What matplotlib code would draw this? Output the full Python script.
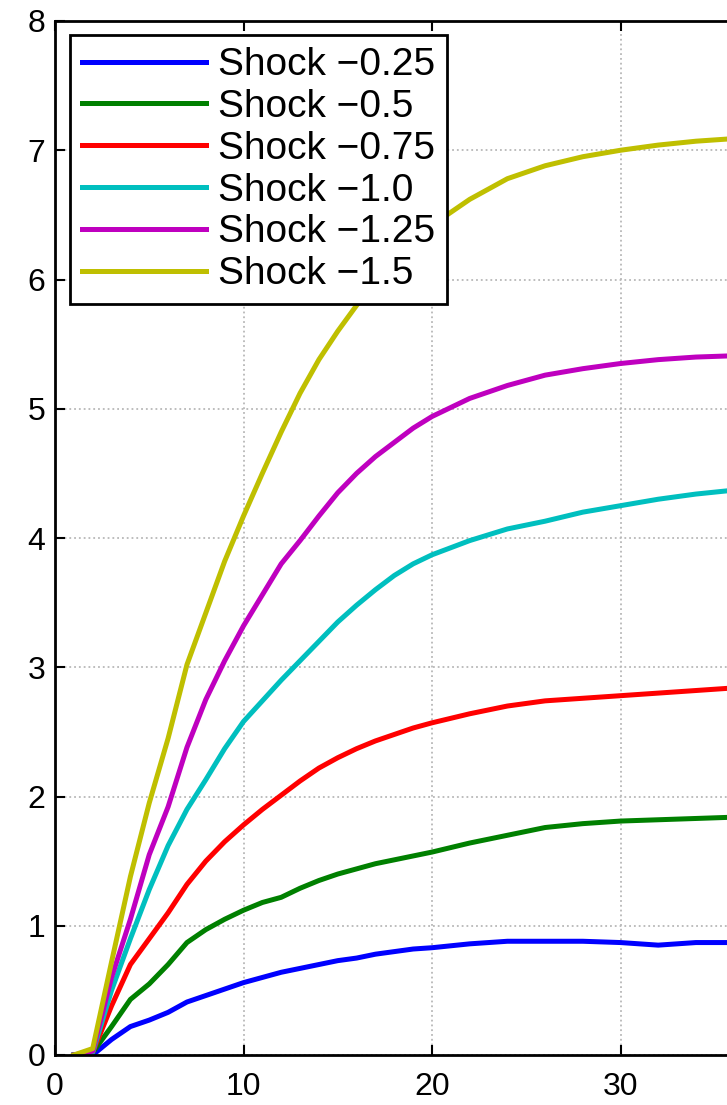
import matplotlib
matplotlib.use("Agg")
import matplotlib.pyplot as plt

plt.rcParams['font.family'] = ['Liberation Sans', 'DejaVu Sans']

# time steps
t = [1, 2, 3, 4, 5, 6, 7, 8, 9, 10, 11, 12, 13, 14, 15, 16, 17, 18, 19, 20,
     22, 24, 26, 28, 30, 32, 34, 36]

shock_025 = [0, 0, 0.12, 0.22, 0.27, 0.33, 0.41, 0.46, 0.51, 0.56, 0.60, 0.64, 0.67, 0.70,
             0.73, 0.75, 0.78, 0.80, 0.82, 0.83, 0.86, 0.88, 0.88, 0.88, 0.87, 0.85, 0.87, 0.87]
shock_050 = [0, 0.02, 0.22, 0.43, 0.55, 0.70, 0.87, 0.97, 1.05, 1.12, 1.18, 1.22, 1.29, 1.35,
             1.40, 1.44, 1.48, 1.51, 1.54, 1.57, 1.64, 1.70, 1.76, 1.79, 1.81, 1.82, 1.83, 1.84]
shock_075 = [0, 0.02, 0.38, 0.70, 0.90, 1.10, 1.32, 1.50, 1.65, 1.78, 1.90, 2.01, 2.12, 2.22,
             2.30, 2.37, 2.43, 2.48, 2.53, 2.57, 2.64, 2.70, 2.74, 2.76, 2.78, 2.80, 2.82, 2.84]
shock_100 = [0, 0.02, 0.50, 0.90, 1.28, 1.62, 1.90, 2.13, 2.37, 2.58, 2.74, 2.90, 3.05, 3.20,
             3.35, 3.48, 3.60, 3.71, 3.80, 3.87, 3.98, 4.07, 4.13, 4.20, 4.25, 4.30, 4.34, 4.37]
shock_125 = [0, 0.03, 0.60, 1.05, 1.55, 1.92, 2.38, 2.75, 3.05, 3.32, 3.56, 3.80, 3.98, 4.17,
             4.35, 4.50, 4.63, 4.74, 4.85, 4.94, 5.08, 5.18, 5.26, 5.31, 5.35, 5.38, 5.40, 5.41]
shock_150 = [0, 0.05, 0.72, 1.38, 1.95, 2.45, 3.02, 3.42, 3.82, 4.17, 4.50, 4.82, 5.12, 5.38,
             5.60, 5.80, 5.99, 6.15, 6.30, 6.42, 6.62, 6.78, 6.88, 6.95, 7.00, 7.04, 7.07, 7.09]

labels = ['Shock \u22120.25', 'Shock \u22120.5', 'Shock \u22120.75',
          'Shock \u22121.0', 'Shock \u22121.25', 'Shock \u22121.5']
series = [shock_025, shock_050, shock_075, shock_100, shock_125, shock_150]
colors = ['#0000ff', '#008000', '#ff0000', '#00bfbf', '#bf00bf', '#bfbf00']

fig = plt.figure(figsize=(7.27, 11.05), dpi=100)
ax = fig.add_axes([55 / 727, 50 / 1105, 754 / 727, 1034 / 1105])

for y, c, lab in zip(series, colors, labels):
    ax.plot(t, y, color=c, lw=3.6, label=lab, solid_joinstyle='round')

ax.set_xlim(0, 40)
ax.set_ylim(0, 8)
ax.set_xticks([0, 10, 20, 30])
ax.set_yticks(range(0, 9))
ax.grid(True, linestyle=':', color='#b8b8b8', lw=1.3)
ax.tick_params(axis='both', direction='in', length=7, width=1.5, labelsize=23,
               top=True, right=True)
ax.tick_params(axis='x', pad=12)
ax.tick_params(axis='y', pad=7)
for s in ax.spines.values():
    s.set_linewidth(2)

leg = ax.legend(loc='upper left', bbox_to_anchor=(0.02, 0.986), borderaxespad=0,
                fontsize=28, handlelength=3.2, handletextpad=0.3, labelspacing=0.15,
                borderpad=0.3, fancybox=False, framealpha=1)
leg.get_frame().set_edgecolor('black')
leg.get_frame().set_linewidth(2)

fig.savefig('out.png', dpi=100)
